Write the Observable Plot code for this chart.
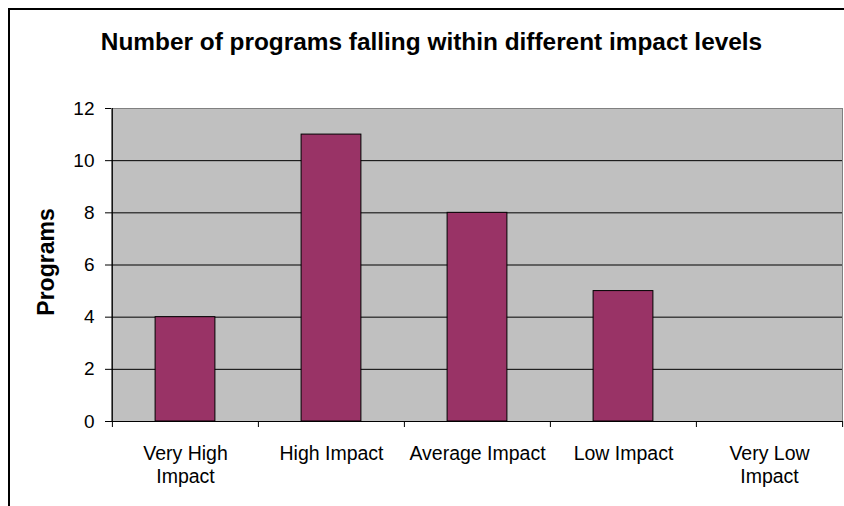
<!DOCTYPE html>
<html>
<head>
<meta charset="utf-8">
<script src="https://cdn.jsdelivr.net/npm/d3@7"></script>
<script src="https://cdn.jsdelivr.net/npm/@observablehq/plot@0.6"></script>
<style>
  html, body { margin: 0; padding: 0; background: #fff; overflow: hidden; }
  #chart { position: relative; width: 844px; height: 506px; overflow: hidden; }
  #border {
    position: absolute; left: 8px; top: 8px; width: 900px; height: 600px;
    border: 2px solid #000; box-sizing: border-box; pointer-events: none;
  }
</style>
</head>
<body>
<div id="chart"></div>
<script>
// Impact categories and program counts
const categories = ["Very High Impact", "High Impact", "Average Impact", "Low Impact", "Very Low Impact"];
const tickLabels = ["Very High\nImpact", "High Impact", "Average Impact", "Low Impact", "Very Low\nImpact"];
const programs = [4, 11, 8, 5, 0];
const yTicks = [0, 2, 4, 6, 8, 10, 12];
const title = "Number of programs falling within different impact levels";
const yLabel = "Programs";

const data = categories.map((c, i) => ({category: c, programs: programs[i]}));

const width = 844, height = 506;
const marginLeft = 111, marginRight = 2, marginTop = 108, marginBottom = 85;
const bandwidth = (width - marginLeft - marginRight) / categories.length;
const barWidth = 60;
const inset = (bandwidth - barWidth) / 2;
const font = '"Liberation Sans", Arial, Helvetica, sans-serif';

const chart = Plot.plot({
  width, height, marginLeft, marginRight, marginTop, marginBottom,
  style: {fontFamily: font, fontSize: "19px", color: "#000", background: "#fff"},
  x: {domain: categories, padding: 0, axis: null},
  y: {domain: [0, 12], ticks: yTicks, tickSize: 6, tickPadding: 11, label: null},
  marks: [
    // gray plot area
    Plot.frame({fill: "#c0c0c0", stroke: "#808080"}),
    // horizontal gridlines
    Plot.ruleY(yTicks.slice(1, -1), {stroke: "#000", strokeWidth: 1}),
    // bars
    Plot.barY(data, {
      x: "category", y: "programs",
      fill: "#993366", stroke: "#000", strokeWidth: 1,
      insetLeft: inset, insetRight: inset
    }),
    // axis lines
    Plot.ruleY([0], {stroke: "#000"}),
    Plot.ruleX([categories[0]], {dx: -bandwidth / 2, stroke: "#000"}),
    // category boundary ticks below the axis
    Plot.ruleX(categories, {x: d => d, y1: 0, y2: 0, insetBottom: -6, dx: -bandwidth / 2, stroke: "#000"}),
    Plot.ruleX([categories[categories.length - 1]], {x: d => d, y1: 0, y2: 0, insetBottom: -6, dx: bandwidth / 2, stroke: "#000"}),
    // category labels
    Plot.text(categories, {
      x: d => d, text: (d, i) => tickLabels[i],
      frameAnchor: "bottom", lineAnchor: "top", textAnchor: "middle",
      dy: 23, lineHeight: 1.15, fontSize: 19.5, fill: "#000"
    }),
    // title
    Plot.text([title], {
      text: d => d, frameAnchor: "top", lineAnchor: "bottom", textAnchor: "middle",
      dx: -45.5, dy: -59, fontSize: 24.4, fontWeight: "bold", fill: "#000"
    }),
    // y axis label
    Plot.text([yLabel], {
      text: d => d, frameAnchor: "left", textAnchor: "middle", rotate: -90,
      dx: -65, dy: -3, fontSize: 23, fontWeight: "bold", fill: "#000"
    })
  ]
});

const host = document.getElementById("chart");
host.appendChild(chart);
const border = document.createElement("div");
border.id = "border";
host.appendChild(border);
</script>
</body>
</html>
